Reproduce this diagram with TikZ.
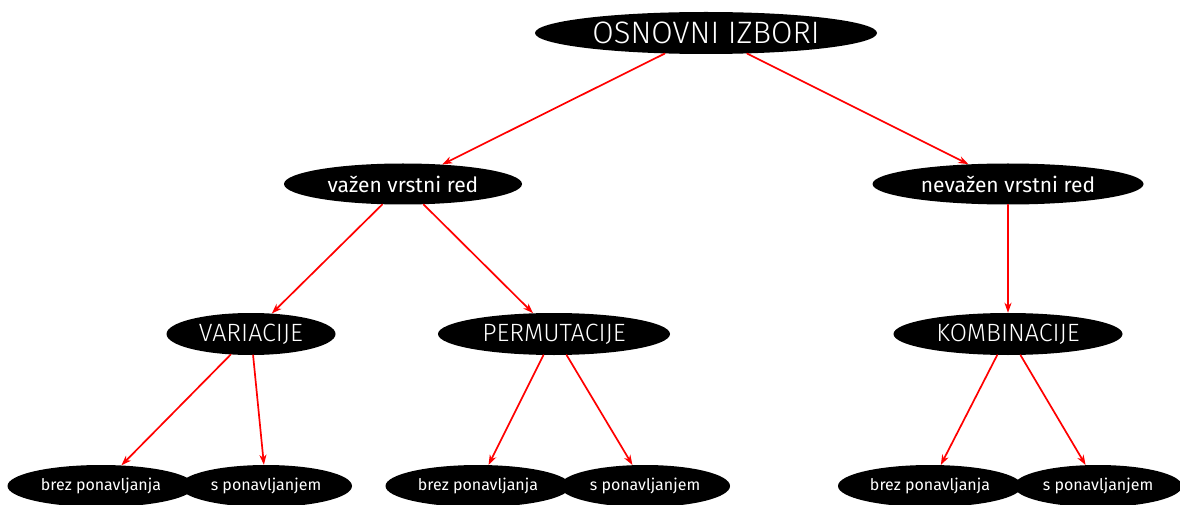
\documentclass[tikz,border=0pt]{standalone}
\usepackage{fontspec}
\setmainfont{Fira Sans}[UprightFont=* Light, BoldFont=*]
\usepackage{tikz}
\usetikzlibrary{arrows.meta}
\usetikzlibrary{shapes.geometric}

\begin{document}
\begin{tikzpicture}[line cap=round,line join=round,>={Stealth[length=10pt,width=7pt,inset=3pt]},x=1pt,y=1pt,
  izbor/.style={ellipse,fill=black,text=white,inner sep=0pt},
  glavni/.style={izbor,minimum width=342,minimum height=42,font=\fontsize{31}{34}\selectfont},
  red/.style={izbor,minimum height=41,font=\bfseries\fontsize{21}{24}\selectfont},
  vrsta/.style={izbor,minimum height=42,font=\fontsize{25}{28}\selectfont},
  nacin/.style={izbor,minimum height=42,font=\bfseries\fontsize{16}{19}\selectfont},
  pusica/.style={->,line width=1.7pt,color=red}]
\useasboundingbox (0,0) rectangle (1180,504);
% vrh
\node[glavni] (osnovni) at (706,471) {OSNOVNI IZBORI};
% vrstni red
\node[red,minimum width=238] (vazen) at (403,320) {važen vrstni red};
\node[red,minimum width=271] (nevazen) at (1008,320) {nevažen vrstni red};
% vrste izborov
\node[vrsta,minimum width=169] (var) at (251,170) {VARIACIJE};
\node[vrsta,minimum width=232] (perm) at (554,170) {PERMUTACIJE};
\node[vrsta,minimum width=229] (komb) at (1008,170) {KOMBINACIJE};
% s ponavljanjem / brez
\node[nacin,minimum width=187] (varbrez) at (101,18) {brez ponavljanja};
\node[nacin,minimum width=172] (vars) at (266,18) {s ponavljanjem};
\node[nacin,minimum width=185] (permbrez) at (478,18) {brez ponavljanja};
\node[nacin,minimum width=170] (perms) at (645,18) {s ponavljanjem};
\node[nacin,minimum width=184] (kombbrez) at (930,18) {brez ponavljanja};
\node[nacin,minimum width=168] (kombs) at (1098,18) {s ponavljanjem};
% puscice
\draw[pusica] (osnovni) -- (vazen);
\draw[pusica] (osnovni) -- (nevazen);
\draw[pusica] (vazen) -- (var);
\draw[pusica] (vazen) -- (perm);
\draw[pusica] (nevazen) -- (komb);
\draw[pusica] (var) -- (varbrez);
\draw[pusica] (var) -- (vars);
\draw[pusica] (perm) -- (permbrez);
\draw[pusica] (perm) -- (perms);
\draw[pusica] (komb) -- (kombbrez);
\draw[pusica] (komb) -- (kombs);
\end{tikzpicture}
\end{document}
